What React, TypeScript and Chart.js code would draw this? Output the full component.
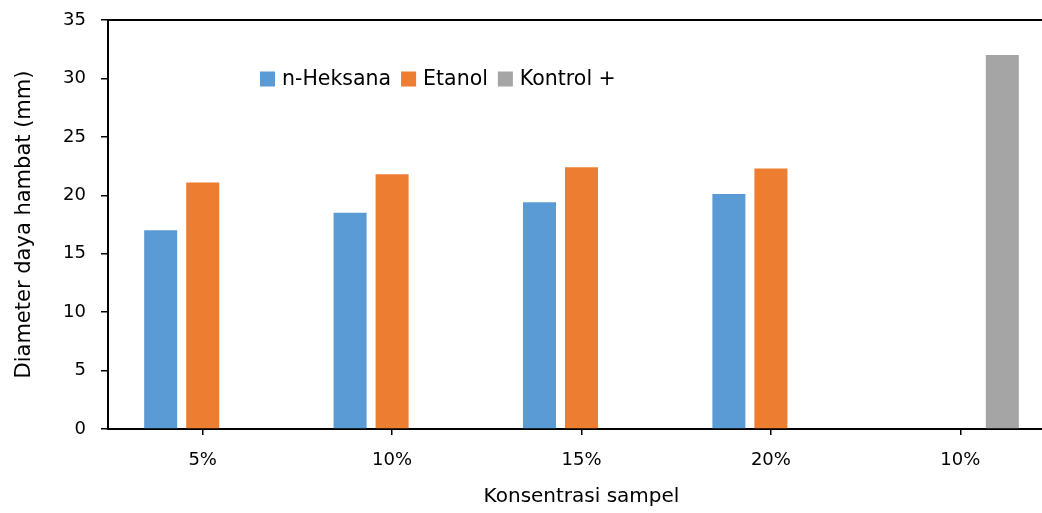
import React, { useEffect, useRef } from "react";
import { Chart, registerables } from "chart.js";

Chart.register(...registerables);

const categories = ["5%", "10%", "15%", "20%", "10%"];
const nHeksana = [17.0, 18.5, 19.4, 20.1, null];
const etanol = [21.1, 21.8, 22.4, 22.3, null];
const kontrol = [null, null, null, null, 32.0];
const yTicks = [0, 5, 10, 15, 20, 25, 30, 35];

const FONT = "'DejaVu Sans', sans-serif";

const legendPlugin = {
  id: "insideLegend",
  afterDraw(chart: any) {
    const { ctx, chartArea } = chart;
    ctx.save();
    // top border of plot area
    ctx.strokeStyle = "#000";
    ctx.lineWidth = 2;
    ctx.beginPath();
    ctx.moveTo(chartArea.left, chartArea.top);
    ctx.lineTo(chartArea.right, chartArea.top);
    ctx.stroke();

    ctx.font = `20.5px ${FONT}`;
    ctx.textBaseline = "middle";
    ctx.textAlign = "left";
    let x = chartArea.left + 152;
    const yc = 79;
    chart.data.datasets.forEach((ds: any) => {
      ctx.fillStyle = ds.backgroundColor;
      ctx.fillRect(x, yc - 7.5, 15, 15);
      x += 22;
      ctx.fillStyle = "#000";
      ctx.fillText(ds.label, x, yc + 1);
      x += ctx.measureText(ds.label).width + 10;
    });
    ctx.restore();
  },
};

export default function App() {
  const ref = useRef<HTMLCanvasElement>(null);
  useEffect(() => {
    if (!ref.current) return;
    const chart = new Chart(ref.current, {
      type: "bar",
      data: {
        labels: categories,
        datasets: [
          { label: "n-Heksana", data: nHeksana, backgroundColor: "#5B9BD5" },
          { label: "Etanol", data: etanol, backgroundColor: "#ED7D31" },
          { label: "Kontrol +", data: kontrol, backgroundColor: "#A5A5A5" },
        ],
      },
      options: {
        animation: false,
        responsive: false,
        maintainAspectRatio: false,
        layout: { padding: { left: 0, top: 20, right: 25, bottom: 0 } },
        datasets: {
          bar: { categoryPercentage: 0.6656, barPercentage: 0.7857 },
        },
        plugins: {
          legend: { display: false },
          tooltip: { enabled: false },
        },
        scales: {
          x: {
            afterFit: (s: any) => {
              s.height = 84;
              s.paddingLeft = 0;
              s.paddingRight = 0;
            },
            grid: {
              display: true,
              drawOnChartArea: false,
              offset: false,
              tickLength: 6,
              color: "#000",
              lineWidth: 1.5,
            },
            border: { display: true, color: "#000", width: 2 },
            ticks: {
              color: "#000",
              font: { family: FONT, size: 18 },
              padding: 15,
            },
            title: {
              display: true,
              text: "Konsentrasi sampel",
              color: "#000",
              font: { family: FONT, size: 20 },
              padding: { top: 4, bottom: 4 },
            },
          },
          y: {
            min: 0,
            max: 35,
            afterFit: (s: any) => {
              s.width = 108;
              s.paddingTop = 0;
              s.paddingBottom = 0;
            },
            afterBuildTicks: (s: any) => {
              s.ticks = yTicks.map((v) => ({ value: v }));
            },
            grid: {
              display: true,
              drawOnChartArea: false,
              tickLength: 7,
              color: "#000",
              lineWidth: 1.5,
            },
            border: { display: true, color: "#000", width: 2 },
            ticks: {
              color: "#000",
              font: { family: FONT, size: 18 },
              padding: 15,
            },
            title: {
              display: true,
              text: "Diameter daya hambat (mm)",
              color: "#000",
              font: { family: FONT, size: 21 },
              padding: { top: 12, bottom: 4 },
            },
          },
        },
      },
      plugins: [legendPlugin],
    });
    return () => chart.destroy();
  }, []);

  return (
    <div
      style={{
        position: "fixed",
        left: 0,
        top: 0,
        width: 1042,
        height: 513,
        overflow: "hidden",
        background: "#fff",
      }}
    >
      <canvas ref={ref} width={1080} height={513} style={{ display: "block" }} />
    </div>
  );
}
